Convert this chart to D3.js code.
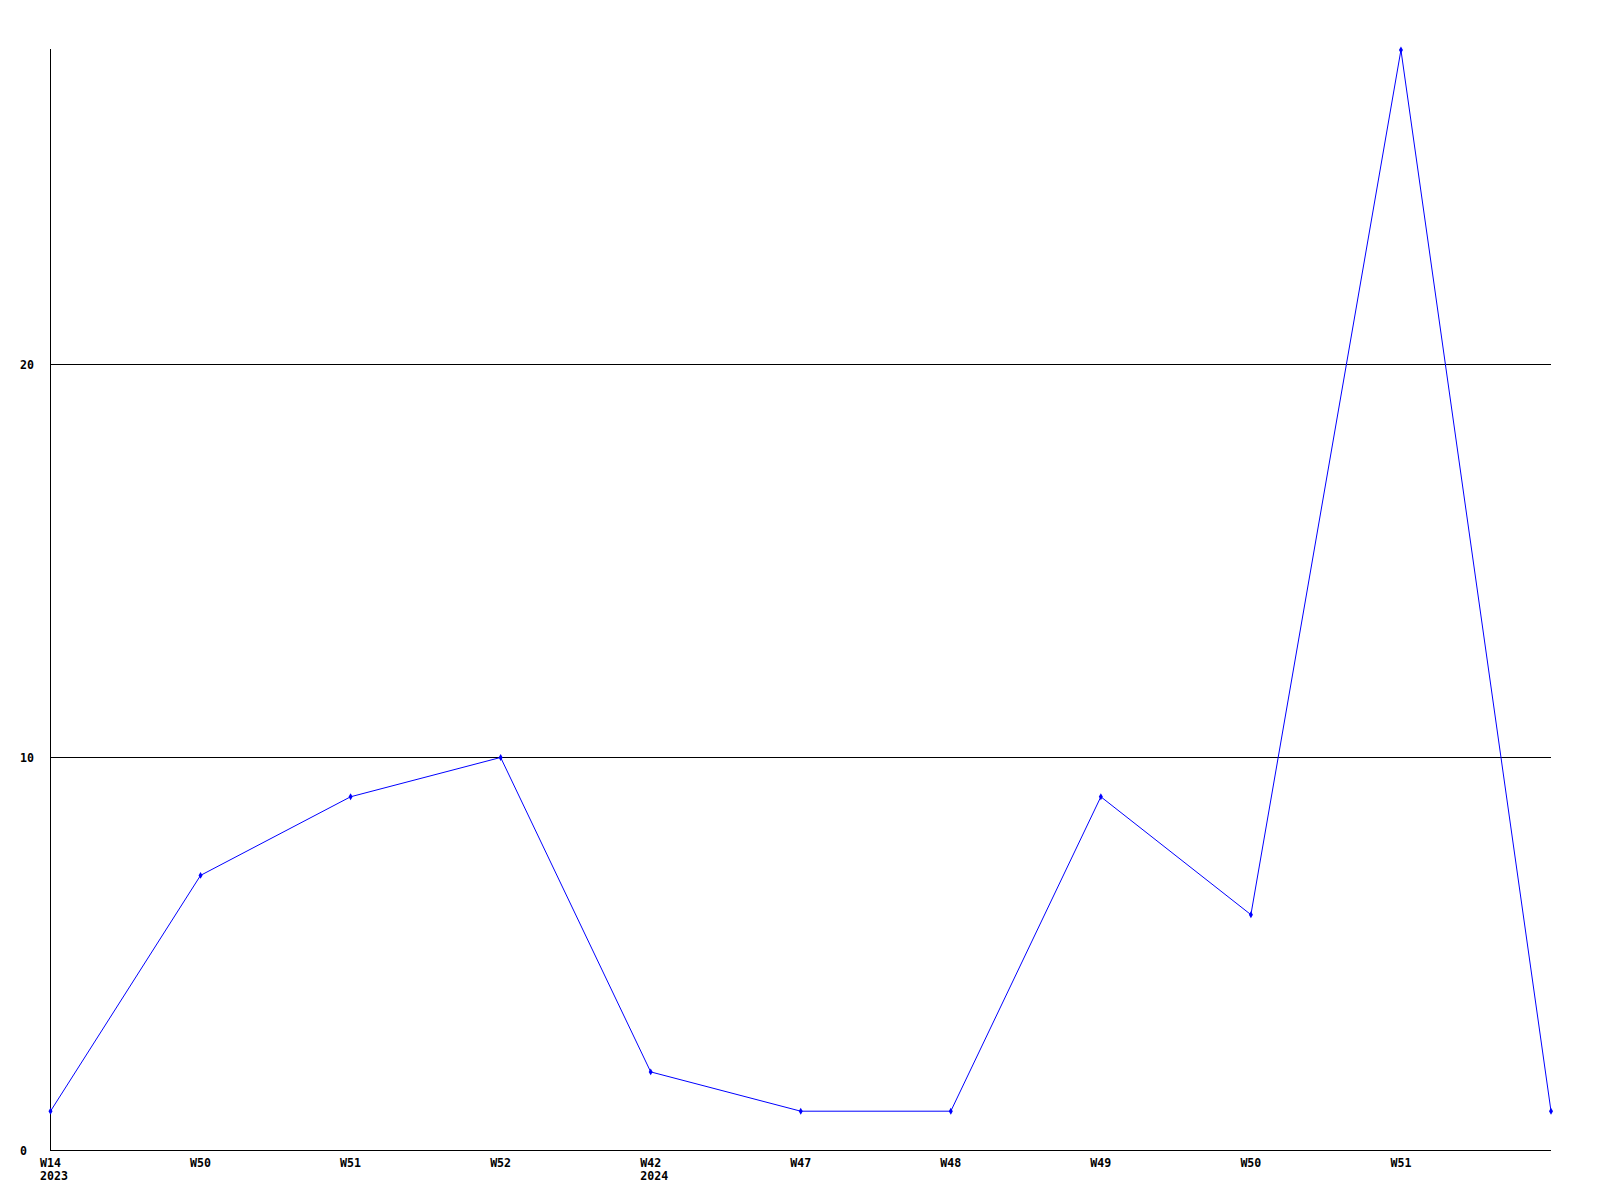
<!DOCTYPE html>
<html><head><meta charset="utf-8">
<script src="https://cdn.jsdelivr.net/npm/d3@7"></script>
<style>body{margin:0;background:#fff}svg{display:block}text{font-family:"DejaVu Sans Mono",monospace;font-weight:bold;font-size:11.6px;fill:#000}</style>
</head><body>
<script>
const weeks = ["W14","W50","W51","W52","W42","W47","W48","W49","W50","W51",""];
const years = ["2023","","","","2024","","","","","",""];
const values = [1,7,9,10,2,1,1,9,6,28,1];
const yTicks = [0,10,20];

const W=1600,H=1200;
const svg=d3.select("body").append("svg").attr("width",W).attr("height",H);
const x=d3.scaleLinear().domain([0,values.length-1]).range([50.5,1551]);
const y=d3.scaleLinear().domain([0,28]).range([1150.5,50]);

// gridlines
svg.selectAll("line.grid").data(yTicks.filter(d=>d>0)).enter().append("line")
 .attr("x1",50).attr("x2",1551).attr("y1",d=>Math.round(y(d))+0.5).attr("y2",d=>Math.round(y(d))+0.5)
 .attr("stroke","#000").attr("stroke-width",1);
// axes
svg.append("line").attr("x1",50.5).attr("x2",50.5).attr("y1",49).attr("y2",1151).attr("stroke","#000");
svg.append("line").attr("x1",50).attr("x2",1551).attr("y1",1150.5).attr("y2",1150.5).attr("stroke","#000");
// y labels
svg.selectAll("text.yl").data(yTicks).enter().append("text")
 .attr("x",20).attr("y",d=>y(d)+4.5).text(d=>d);
// x labels
weeks.forEach((w,i)=>{
  if(w) svg.append("text").attr("x",x(i)-10.5).attr("y",1167).text(w);
  if(years[i]) svg.append("text").attr("x",x(i)-10.5).attr("y",1180).text(years[i]);
});
// line
svg.append("path").datum(values)
 .attr("d",d3.line().x((d,i)=>x(i)).y(d=>y(d)))
 .attr("fill","none").attr("stroke","#0000ff").attr("stroke-width",1);
// markers
svg.selectAll("path.m").data(values).enter().append("path")
 .attr("d",d3.symbol(d3.symbolDiamond,14))
 .attr("transform",(d,i)=>`translate(${x(i)},${y(d)})`)
 .attr("fill","#0000ff");
</script>
</body></html>
